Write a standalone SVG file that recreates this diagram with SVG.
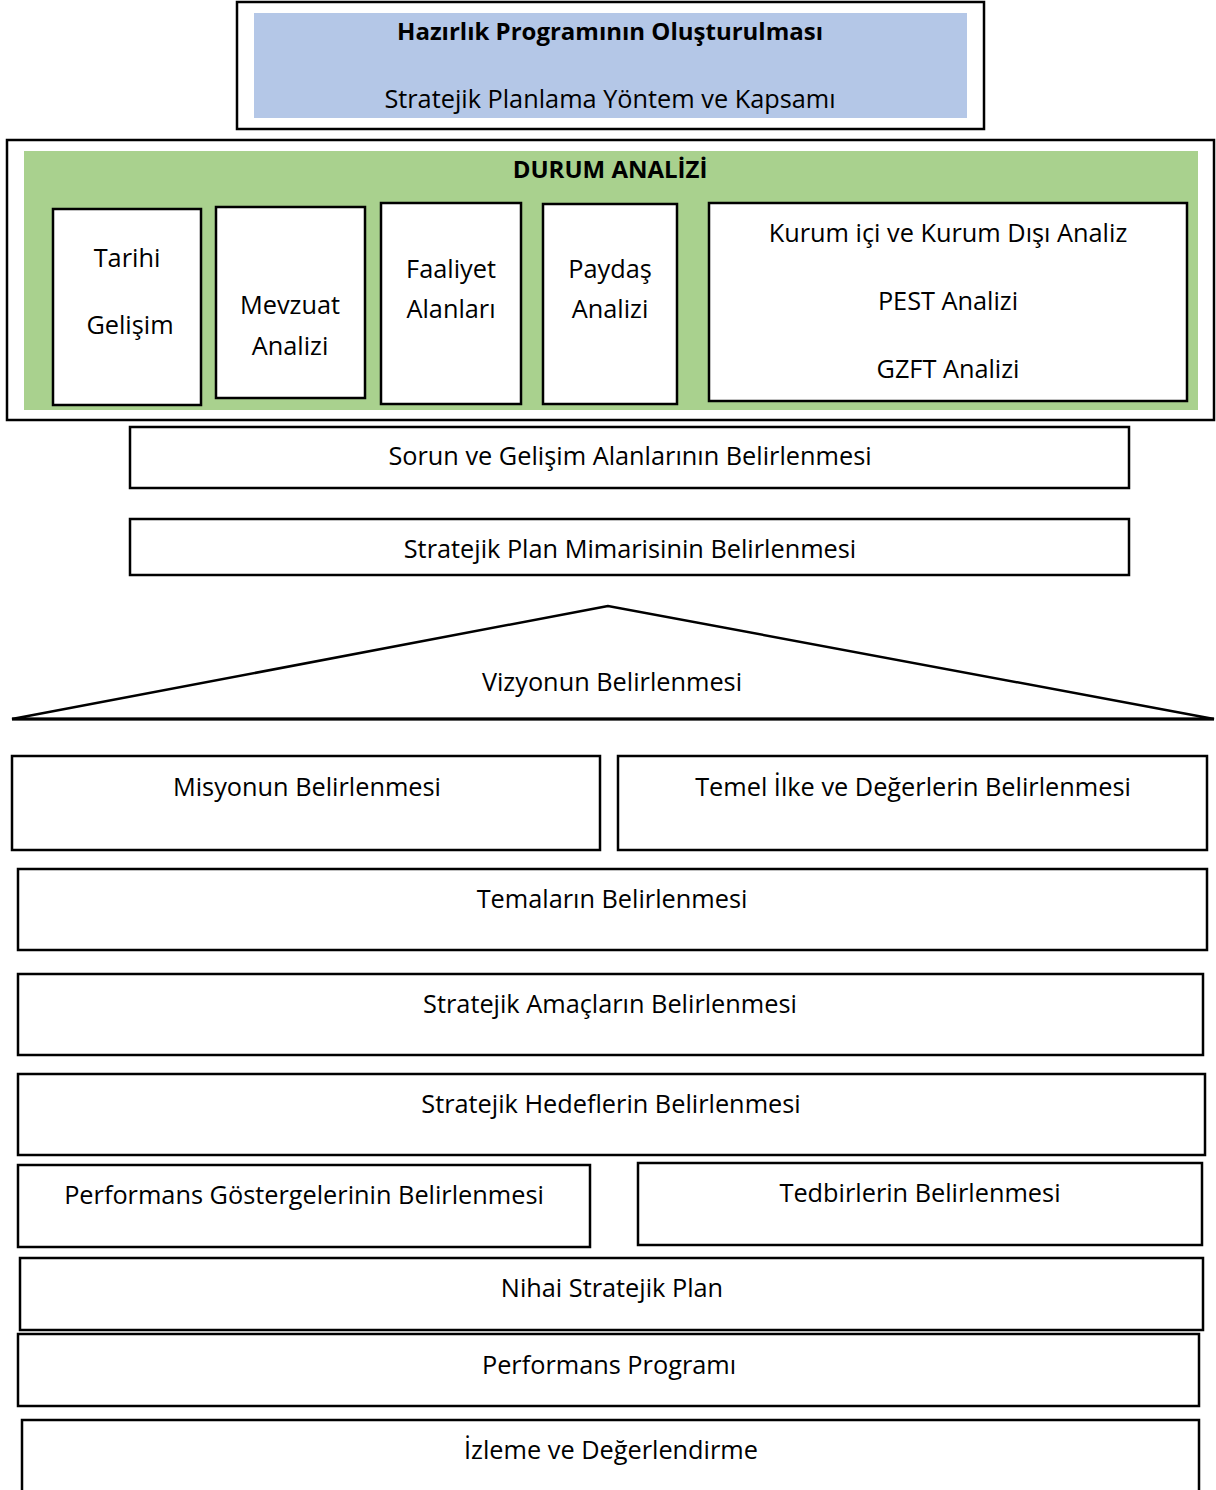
<svg xmlns="http://www.w3.org/2000/svg" width="1216" height="1490" viewBox="0 0 1216 1490">
<style>
.b{fill:#fff;stroke:#000;stroke-width:2.5}
.t{font-family:"Open Sans","Noto Sans","Liberation Sans",sans-serif;font-size:25.3px;fill:#000;text-anchor:middle}
.bd{font-weight:bold;font-size:24px}
</style>
<rect width="1216" height="1490" fill="#fff"/>
<g id="hazirlik">
<rect class="b" x="237" y="2" width="747" height="127"/>
<rect x="254" y="13" width="713" height="105" fill="#b4c7e7"/>
<text class="t bd" x="610" y="40">Hazırlık Programının Oluşturulması</text>
<text class="t" x="610" y="108">Stratejik Planlama Yöntem ve Kapsamı</text>
</g>
<g id="durum">
<rect class="b" x="7" y="140" width="1207" height="280"/>
<rect x="24" y="151" width="1174" height="259" fill="#a9d18e"/>
<text class="t bd" x="610" y="178">DURUM ANALİZİ</text>
</g>
<g id="tarihi">
<rect class="b" x="53" y="209" width="148" height="196"/>
<text class="t" x="127" y="267">Tarihi</text>
<text class="t" x="130" y="334">Gelişim</text>
</g>
<g id="mevzuat">
<rect class="b" x="216" y="207" width="149" height="191"/>
<text class="t" x="290" y="314">Mevzuat</text>
<text class="t" x="290" y="355">Analizi</text>
</g>
<g id="faaliyet">
<rect class="b" x="381" y="203" width="140" height="201"/>
<text class="t" x="451" y="278">Faaliyet</text>
<text class="t" x="451" y="318">Alanları</text>
</g>
<g id="paydas">
<rect class="b" x="543" y="204" width="134" height="200"/>
<text class="t" x="610" y="278">Paydaş</text>
<text class="t" x="610" y="318">Analizi</text>
</g>
<g id="kurum">
<rect class="b" x="709" y="203" width="478" height="198"/>
<text class="t" x="948" y="242">Kurum içi ve Kurum Dışı Analiz</text>
<text class="t" x="948" y="310">PEST Analizi</text>
<text class="t" x="948" y="378">GZFT Analizi</text>
</g>
<g id="sorun">
<rect class="b" x="130" y="427" width="999" height="61"/>
<text class="t" x="630" y="465">Sorun ve Gelişim Alanlarının Belirlenmesi</text>
</g>
<g id="mimari">
<rect class="b" x="130" y="519" width="999" height="56"/>
<text class="t" x="630" y="558">Stratejik Plan Mimarisinin Belirlenmesi</text>
</g>
<g id="vizyon">
<polygon points="608,606 12,719 1214,719" fill="#fff" stroke="#000" stroke-width="2.5"/>
<line x1="12" y1="719" x2="1214" y2="719" stroke="#000" stroke-width="3"/>
<text class="t" x="612" y="691">Vizyonun Belirlenmesi</text>
</g>
<g id="misyon">
<rect class="b" x="12" y="756" width="588" height="94"/>
<text class="t" x="307" y="796">Misyonun Belirlenmesi</text>
</g>
<g id="temel">
<rect class="b" x="618" y="756" width="589" height="94"/>
<text class="t" x="913" y="796">Temel İlke ve Değerlerin Belirlenmesi</text>
</g>
<g id="temalar">
<rect class="b" x="18" y="869" width="1189" height="81"/>
<text class="t" x="612" y="908">Temaların Belirlenmesi</text>
</g>
<g id="amaclar">
<rect class="b" x="18" y="974" width="1185" height="81"/>
<text class="t" x="610" y="1013">Stratejik Amaçların Belirlenmesi</text>
</g>
<g id="hedefler">
<rect class="b" x="18" y="1074" width="1187" height="81"/>
<text class="t" x="611" y="1113">Stratejik Hedeflerin Belirlenmesi</text>
</g>
<g id="gostergeler">
<rect class="b" x="18" y="1165" width="572" height="82"/>
<text class="t" x="304" y="1204">Performans Göstergelerinin Belirlenmesi</text>
</g>
<g id="tedbirler">
<rect class="b" x="638" y="1163" width="564" height="82"/>
<text class="t" x="920" y="1202">Tedbirlerin Belirlenmesi</text>
</g>
<g id="nihai">
<rect class="b" x="20" y="1258" width="1183" height="72"/>
<text class="t" x="612" y="1297">Nihai Stratejik Plan</text>
</g>
<g id="program">
<rect class="b" x="18" y="1334" width="1181" height="72"/>
<text class="t" x="609" y="1374">Performans Programı</text>
</g>
<g id="izleme">
<rect class="b" x="22" y="1420" width="1177" height="90"/>
<text class="t" x="611" y="1459">İzleme ve Değerlendirme</text>
</g>
<g id="connectors"></g>
</svg>
